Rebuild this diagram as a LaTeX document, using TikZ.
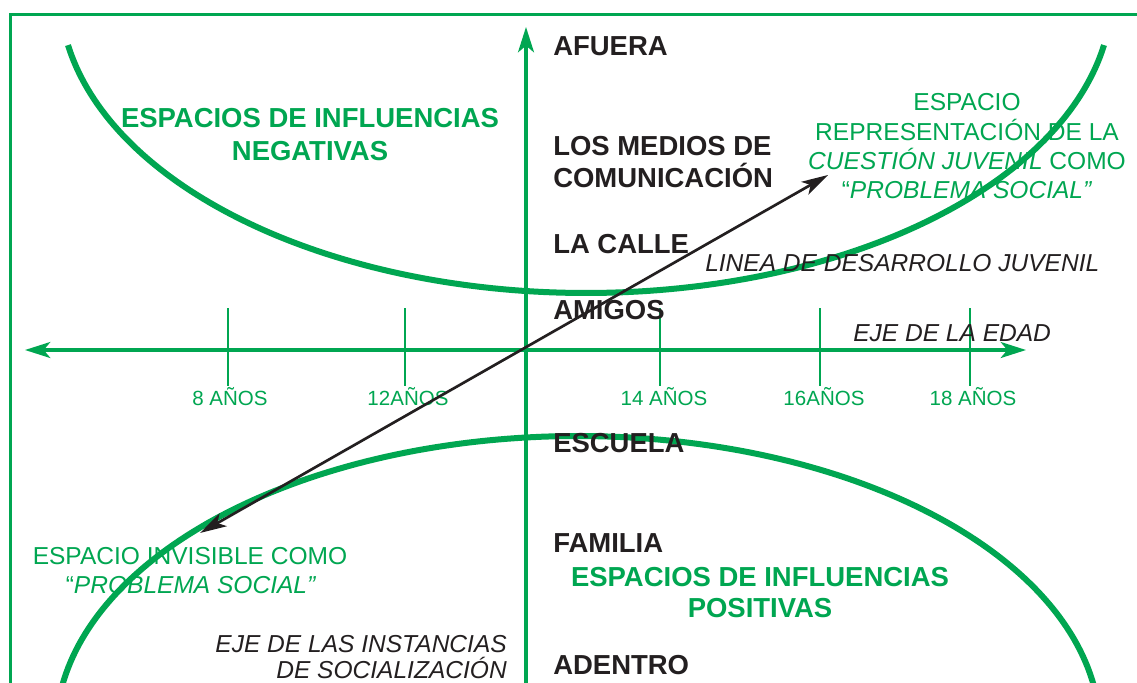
\documentclass[tikz,border=0pt]{standalone}
\usepackage{fontspec}
\setmainfont{Liberation Sans}
\usetikzlibrary{arrows.meta}
\definecolor{vgreen}{RGB}{0,166,81}
\definecolor{ink}{RGB}{35,31,32}
\begin{document}
\begin{tikzpicture}[x=0.75pt,y=-0.75pt,
  frame/.style={draw=vgreen,line width=2.25pt},
  curve/.style={draw=vgreen,line width=4.5pt},
  axis/.style={draw=vgreen,line width=2.3pt},
  tickline/.style={draw=vgreen,line width=1.6pt},
  link/.style={draw=ink,line width=2pt},
  blab/.style={font=\fontsize{20.6pt}{24pt}\selectfont\bfseries,text=ink,inner sep=0pt,anchor=base west},
  gbold/.style={font=\fontsize{20.6pt}{24pt}\selectfont\bfseries,text=vgreen,inner sep=0pt,anchor=base},
  ital/.style={font=\fontsize{18.4pt}{22pt}\selectfont\itshape,text=ink,inner sep=0pt},
  greg/.style={font=\fontsize{18.4pt}{22pt}\selectfont,text=vgreen,inner sep=0pt,anchor=base},
  ticklab/.style={font=\fontsize{15.4pt}{18pt}\selectfont,text=vgreen,inner sep=0pt,anchor=base}]
\useasboundingbox (0,0) rectangle (1137,682);
\clip (0,0) rectangle (1137,682);
\fill[white] (0,0) rectangle (1137,682);
% frame
\draw[frame] (10,14) rectangle (1160,720);
% influence curves
\draw[curve] plot[domain=10:170,samples=150] ({586+526*cos(\x)},{-7+300*sin(\x)});
\draw[curve] plot[domain=3:177,samples=150] ({578+522*cos(\x)},{731-295*sin(\x)});
% axes
\coordinate (xl) at (25,350);
\coordinate (xr) at (1026,350);
\coordinate (yt) at (526,27);
\coordinate (yb) at (526,720);
\draw[axis,{Stealth[length=19pt,width=12pt,inset=5pt]}-{Stealth[length=19pt,width=12pt,inset=5pt]}] (xl) -- (xr);
\draw[axis,-{Stealth[length=19pt,width=12pt,inset=5pt]}] (yb) -- (yt);
% ticks
\foreach \n/\x in {a/228,b/405,c/660,d/820,e/970}{
  \coordinate (t\n1) at (\x,308);
  \coordinate (t\n2) at (\x,386);
  \draw[tickline] (t\n1) -- (t\n2);
}
\node[ticklab] (l8) at (230,405) {8 AÑOS};
\node[ticklab] (l12) at (408,405) {12AÑOS};
\node[ticklab] (l14) at (664,405) {14 AÑOS};
\node[ticklab] (l16) at (824,405) {16AÑOS};
\node[ticklab] (l18) at (973,405) {18 AÑOS};
% development line
\coordinate (dl) at (200,533);
\coordinate (dr) at (828,175);
\draw[link,{Stealth[length=20pt,width=11pt,inset=5pt]}-{Stealth[length=20pt,width=11pt,inset=5pt]}] (dl) -- (dr);
% socialization instances
\node[blab] (afuera) at (553,55) {AFUERA};
\node[blab] (medios1) at (553,155) {LOS MEDIOS DE};
\node[blab] (medios2) at (553,187) {COMUNICACIÓN};
\node[blab] (calle) at (553,253) {LA CALLE};
\node[blab] (amigos) at (553,319) {AMIGOS};
\node[blab] (escuela) at (553,452) {ESCUELA};
\node[blab] (familia) at (553,552) {FAMILIA};
\node[blab] (adentro) at (553,674) {ADENTRO};
% spaces
\node[gbold] (neg1) at (310,127) {ESPACIOS DE INFLUENCIAS};
\node[gbold] (neg2) at (310,160) {NEGATIVAS};
\node[gbold] (pos1) at (760,586) {ESPACIOS DE INFLUENCIAS};
\node[gbold] (pos2) at (760,617) {POSITIVAS};
% axis names
\node[ital,anchor=base west] (linea) at (705,271) {LINEA DE DESARROLLO JUVENIL};
\node[ital,anchor=base west] (edad) at (853,341) {EJE DE LA EDAD};
\node[ital,anchor=base east] (inst1) at (507,652) {EJE DE LAS INSTANCIAS};
\node[ital,anchor=base east] (inst2) at (507,678) {DE SOCIALIZACIÓN};
% representation
\node[greg] (rep1) at (967,110) {ESPACIO};
\node[greg] (rep2) at (967,140) {REPRESENTACIÓN DE LA};
\node[greg] (rep3) at (967,169) {\textit{CUESTIÓN JUVENIL} COMO};
\node[greg] (rep4) at (967,198) {“\textit{PROBLEMA SOCIAL”}};
\node[greg] (inv1) at (190,564) {ESPACIO INVISIBLE COMO};
\node[greg] (inv2) at (191,593) {“\textit{PROBLEMA SOCIAL”}};
\end{tikzpicture}
\end{document}
